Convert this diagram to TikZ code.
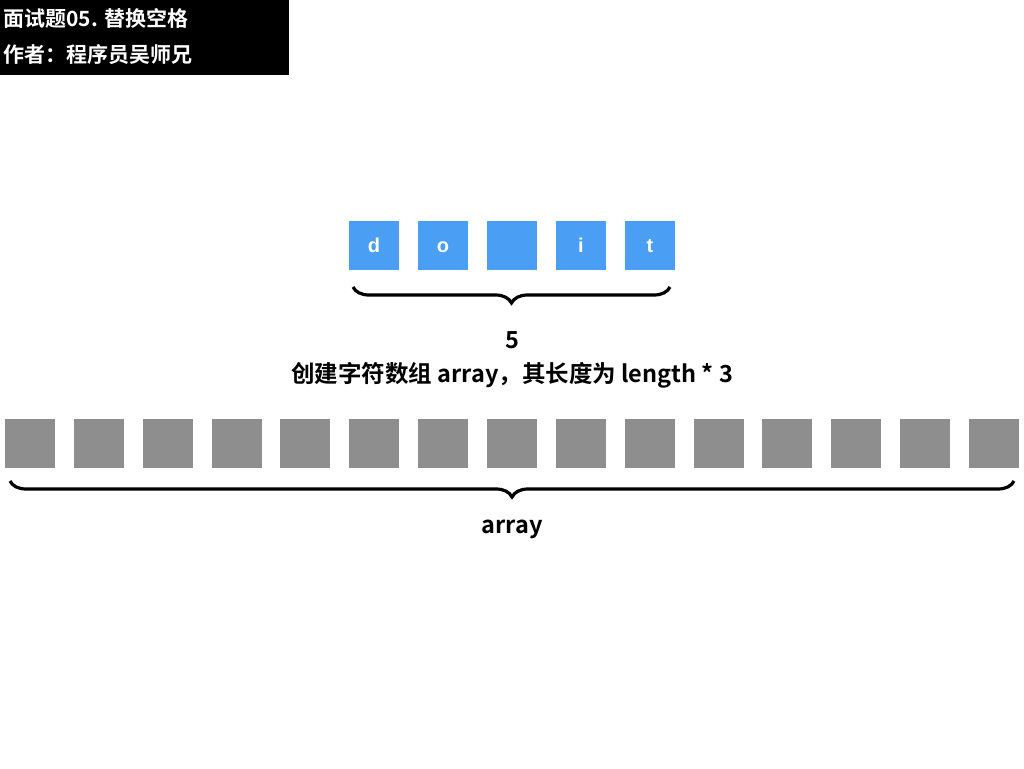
\documentclass[tikz,border=0pt]{standalone}
\usepackage{fontspec}
\setmainfont{Liberation Sans}
\newfontfamily\cjk{Noto Sans CJK SC}[BoldFont={* Bold}]
\usetikzlibrary{decorations.pathreplacing}
\definecolor{cblue}{HTML}{4A9FF5}
\definecolor{cgray}{HTML}{8E8E8E}
\tikzset{
 bluebox/.style={fill=cblue,minimum width=50pt,minimum height=49pt,inner sep=0,text=white,text height=14pt,text depth=0pt,font=\bfseries\fontsize{20}{22}\selectfont},
 graybox/.style={fill=cgray,minimum width=50pt,minimum height=49pt,inner sep=0},
 lbl/.style={font=\cjk\bfseries\fontsize{23.5}{26}\selectfont},
 hdr/.style={font=\cjk\bfseries\fontsize{21}{24}\selectfont,text=white,anchor=west},
 brc/.style={decorate,decoration={brace,mirror,amplitude=16pt},line width=3.2pt}
}
\begin{document}
\begin{tikzpicture}[x=1pt,y=-1pt]
\useasboundingbox (0,0) rectangle (1024,768);
\fill[black] (0,0) rectangle (289,75);
\node[hdr] (t1) at (0,18) {面试题05. 替换空格};
\node[hdr] (t2) at (0,55) {作者：程序员吴师兄};
\foreach \c [count=\i from 0] in {d,o,{},i,t}
  \node[bluebox] (b\i) at (374+69*\i,245.5) {\c};
\draw[brc] (353,287) -- (670,287);
\node[lbl] (n5) at (512,340) {5};
\node[lbl] (desc) at (512,375) {创建字符数组 array，其长度为 length * 3};
\foreach \i in {0,...,14}
  \node[graybox] (g\i) at (30+68.85*\i,443.5) {};
\draw[brc] (10,481) -- (1014,481);
\node[lbl] (arr) at (512,529) {array};
\end{tikzpicture}
\end{document}
